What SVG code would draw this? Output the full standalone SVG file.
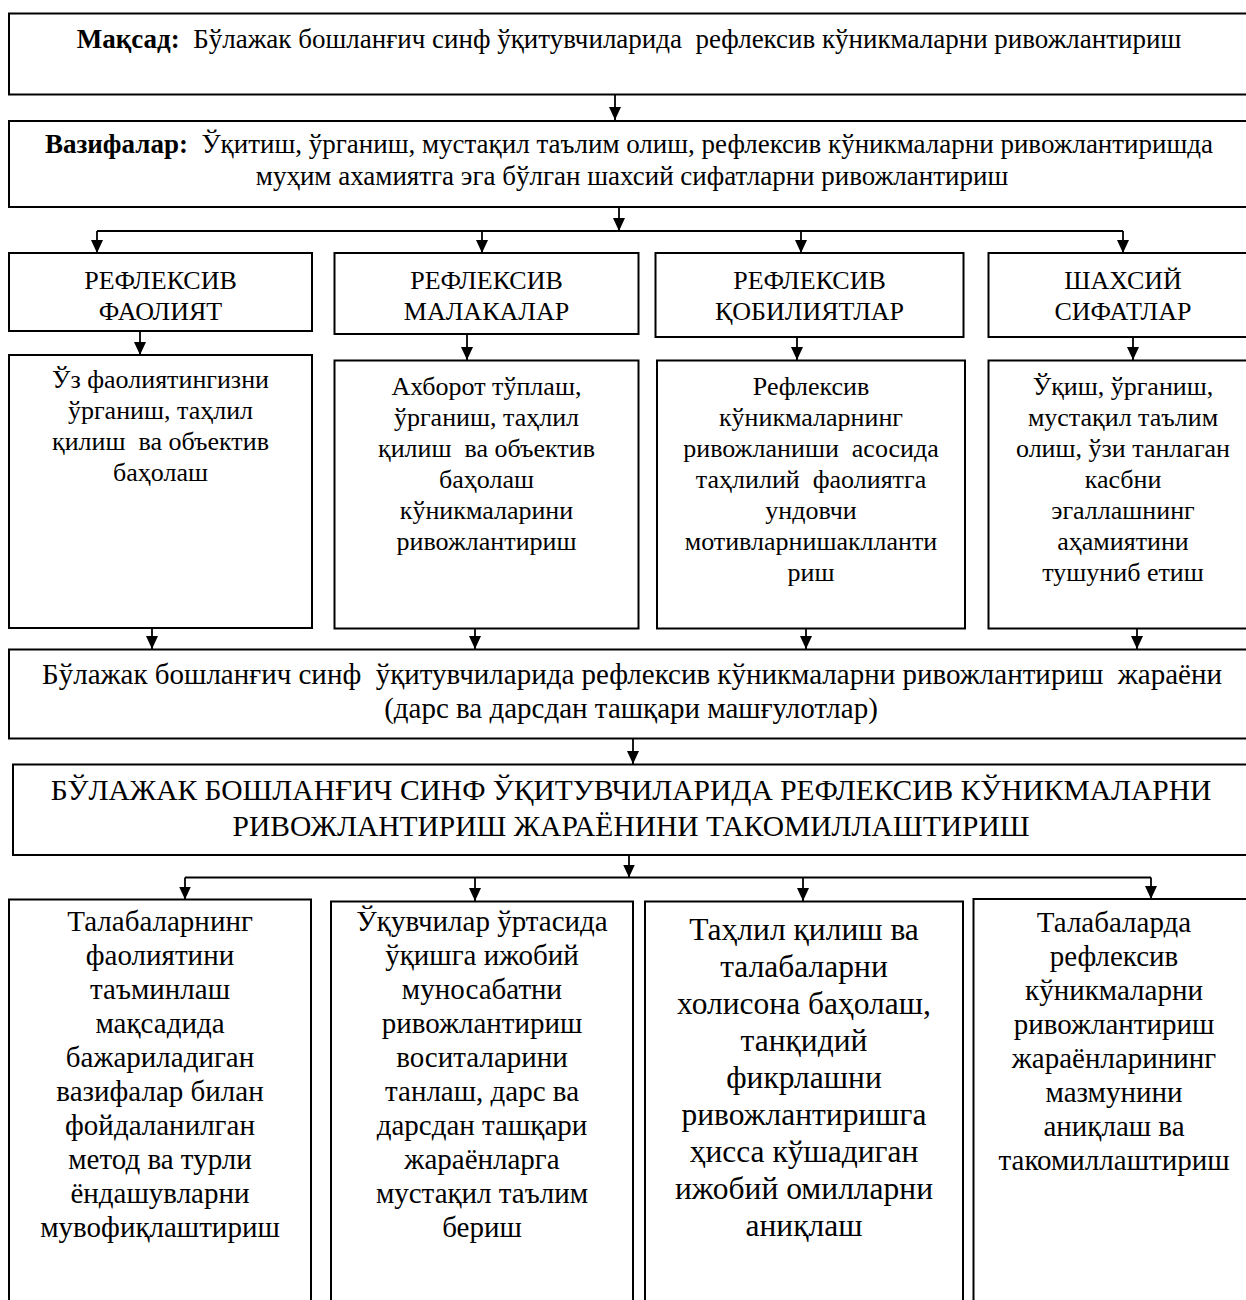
<svg xmlns="http://www.w3.org/2000/svg" width="1246" height="1300" viewBox="0 0 1246 1300">
<style>
.box{fill:#fff;stroke:#000;stroke-width:2}
.conn{fill:none;stroke:#000;stroke-width:1.8}
text{font-family:"Liberation Serif","Times New Roman",serif;fill:#000;text-anchor:middle}
.t27{font-size:27px}
.hd{font-size:26px}
.dt{font-size:26px}
.pr{font-size:29px}
.cp{font-size:29.5px}
.bt{font-size:29px}
.b3{font-size:31.5px}
.b{font-weight:bold}
</style>
<defs>
<marker id="ah" viewBox="0 0 13 12" refX="13" refY="6" markerWidth="13" markerHeight="12" markerUnits="userSpaceOnUse" orient="auto">
<path d="M0,0 L13,6 L0,12 z" fill="#000"/>
</marker>
</defs>
<rect width="1246" height="1300" fill="#fff"/>

<g id="connectors">
<line class="conn" x1="615" y1="95" x2="615" y2="120" marker-end="url(#ah)"/>
<line class="conn" x1="619" y1="207" x2="619" y2="231" marker-end="url(#ah)"/>
<line class="conn" x1="97" y1="231" x2="1123" y2="231"/>
<line class="conn" x1="97" y1="231" x2="97" y2="253" marker-end="url(#ah)"/>
<line class="conn" x1="482" y1="231" x2="482" y2="253" marker-end="url(#ah)"/>
<line class="conn" x1="801" y1="231" x2="801" y2="253" marker-end="url(#ah)"/>
<line class="conn" x1="1123" y1="231" x2="1123" y2="253" marker-end="url(#ah)"/>
<line class="conn" x1="140" y1="331" x2="140" y2="355" marker-end="url(#ah)"/>
<line class="conn" x1="467" y1="334" x2="467" y2="360" marker-end="url(#ah)"/>
<line class="conn" x1="797" y1="337" x2="797" y2="360" marker-end="url(#ah)"/>
<line class="conn" x1="1133" y1="337" x2="1133" y2="360" marker-end="url(#ah)"/>
<line class="conn" x1="152" y1="628" x2="152" y2="649" marker-end="url(#ah)"/>
<line class="conn" x1="475" y1="628" x2="475" y2="649" marker-end="url(#ah)"/>
<line class="conn" x1="806" y1="628" x2="806" y2="649" marker-end="url(#ah)"/>
<line class="conn" x1="1137" y1="628" x2="1137" y2="649" marker-end="url(#ah)"/>
<line class="conn" x1="633" y1="739" x2="633" y2="764" marker-end="url(#ah)"/>
<line class="conn" x1="629" y1="855" x2="629" y2="877.5" marker-end="url(#ah)"/>
<line class="conn" x1="185" y1="877.5" x2="1151" y2="877.5"/>
<line class="conn" x1="185" y1="877.5" x2="185" y2="899.5" marker-end="url(#ah)"/>
<line class="conn" x1="475" y1="877.5" x2="475" y2="901" marker-end="url(#ah)"/>
<line class="conn" x1="803" y1="877.5" x2="803" y2="901" marker-end="url(#ah)"/>
<line class="conn" x1="1151" y1="877.5" x2="1151" y2="899" marker-end="url(#ah)"/>
</g>

<g id="goal">
<rect class="box" x="9" y="13.5" width="1250" height="81"/>
<text class="t27" x="629" y="48"><tspan class="b">Мақсад:</tspan>&#160; Бўлажак бошланғич синф ўқитувчиларида&#160; рефлексив кўникмаларни ривожлантириш</text>
</g>

<g id="tasks">
<rect class="box" x="9" y="121" width="1250" height="86"/>
<text class="t27" x="629" y="153"><tspan class="b">Вазифалар:</tspan>&#160; Ўқитиш, ўрганиш, мустақил таълим олиш, рефлексив кўникмаларни ривожлантиришда</text>
<text class="t27" x="632" y="185">муҳим ахамиятга эга бўлган шахсий сифатларни ривожлантириш</text>
</g>

<g id="h1">
<rect class="box" x="9" y="253" width="303" height="78"/>
<text class="hd" x="160.5" y="289">РЕФЛЕКСИВ</text>
<text class="hd" x="160.5" y="320">ФАОЛИЯТ</text>
</g>
<g id="h2">
<rect class="box" x="334.5" y="253" width="304" height="81"/>
<text class="hd" x="486.5" y="289">РЕФЛЕКСИВ</text>
<text class="hd" x="486.5" y="320">МАЛАКАЛАР</text>
</g>
<g id="h3">
<rect class="box" x="655.5" y="253" width="308" height="84"/>
<text class="hd" x="809.5" y="289">РЕФЛЕКСИВ</text>
<text class="hd" x="809.5" y="320">ҚОБИЛИЯТЛАР</text>
</g>
<g id="h4">
<rect class="box" x="988.5" y="253" width="270" height="84"/>
<text class="hd" x="1123" y="289">ШАХСИЙ</text>
<text class="hd" x="1123" y="320">СИФАТЛАР</text>
</g>

<g id="d1">
<rect class="box" x="9" y="355" width="303" height="273"/>
<text class="dt" x="160.5" y="388">Ўз фаолиятингизни</text>
<text class="dt" x="160.5" y="419">ўрганиш, таҳлил</text>
<text class="dt" x="160.5" y="450">қилиш&#160; ва объектив</text>
<text class="dt" x="160.5" y="481">баҳолаш</text>
</g>
<g id="d2">
<rect class="box" x="334.5" y="360.5" width="304" height="268"/>
<text class="dt" x="486.5" y="395">Ахборот тўплаш,</text>
<text class="dt" x="486.5" y="426">ўрганиш, таҳлил</text>
<text class="dt" x="486.5" y="457">қилиш&#160; ва объектив</text>
<text class="dt" x="486.5" y="488">баҳолаш</text>
<text class="dt" x="486.5" y="519">кўникмаларини</text>
<text class="dt" x="486.5" y="550">ривожлантириш</text>
</g>
<g id="d3">
<rect class="box" x="657" y="360.5" width="308" height="268"/>
<text class="dt" x="811" y="395">Рефлексив</text>
<text class="dt" x="811" y="426">кўникмаларнинг</text>
<text class="dt" x="811" y="457">ривожланиши&#160; асосида</text>
<text class="dt" x="811" y="488">таҳлилий&#160; фаолиятга</text>
<text class="dt" x="811" y="519">ундовчи</text>
<text class="dt" x="811" y="550">мотивларнишаклланти</text>
<text class="dt" x="811" y="581">риш</text>
</g>
<g id="d4">
<rect class="box" x="988.5" y="360.5" width="270" height="268"/>
<text class="dt" x="1123" y="395">Ўқиш, ўрганиш,</text>
<text class="dt" x="1123" y="426">мустақил таълим</text>
<text class="dt" x="1123" y="457">олиш, ўзи танлаган</text>
<text class="dt" x="1123" y="488">касбни</text>
<text class="dt" x="1123" y="519">эгаллашнинг</text>
<text class="dt" x="1123" y="550">аҳамиятини</text>
<text class="dt" x="1123" y="581">тушуниб етиш</text>
</g>

<g id="process">
<rect class="box" x="9" y="649.5" width="1250" height="89"/>
<text class="pr" x="632" y="684">Бўлажак бошланғич синф&#160; ўқитувчиларида рефлексив кўникмаларни ривожлантириш&#160; жараёни</text>
<text class="pr" x="631" y="718">(дарс ва дарсдан ташқари машғулотлар)</text>
</g>

<g id="improve">
<rect class="box" x="13" y="764.5" width="1250" height="90.5"/>
<text class="cp" x="631" y="800">БЎЛАЖАК БОШЛАНҒИЧ СИНФ ЎҚИТУВЧИЛАРИДА РЕФЛЕКСИВ КЎНИКМАЛАРНИ</text>
<text class="cp" x="631" y="836">РИВОЖЛАНТИРИШ ЖАРАЁНИНИ ТАКОМИЛЛАШТИРИШ</text>
</g>

<g id="b1">
<rect class="box" x="9" y="899.5" width="302" height="420"/>
<text class="bt" x="160" y="931">Талабаларнинг</text>
<text class="bt" x="160" y="965">фаолиятини</text>
<text class="bt" x="160" y="999">таъминлаш</text>
<text class="bt" x="160" y="1033">мақсадида</text>
<text class="bt" x="160" y="1067">бажариладиган</text>
<text class="bt" x="160" y="1101">вазифалар билан</text>
<text class="bt" x="160" y="1135">фойдаланилган</text>
<text class="bt" x="160" y="1169">метод ва турли</text>
<text class="bt" x="160" y="1203">ёндашувларни</text>
<text class="bt" x="160" y="1237">мувофиқлаштириш</text>
</g>
<g id="b2">
<rect class="box" x="331" y="901.5" width="302" height="420"/>
<text class="bt" x="482" y="931">Ўқувчилар ўртасида</text>
<text class="bt" x="482" y="965">ўқишга ижобий</text>
<text class="bt" x="482" y="999">муносабатни</text>
<text class="bt" x="482" y="1033">ривожлантириш</text>
<text class="bt" x="482" y="1067">воситаларини</text>
<text class="bt" x="482" y="1101">танлаш, дарс ва</text>
<text class="bt" x="482" y="1135">дарсдан ташқари</text>
<text class="bt" x="482" y="1169">жараёнларга</text>
<text class="bt" x="482" y="1203">мустақил таълим</text>
<text class="bt" x="482" y="1237">бериш</text>
</g>
<g id="b3">
<rect class="box" x="645" y="901.5" width="318" height="420"/>
<text class="b3" x="804" y="940">Таҳлил қилиш ва</text>
<text class="b3" x="804" y="977">талабаларни</text>
<text class="b3" x="804" y="1014">холисона баҳолаш,</text>
<text class="b3" x="804" y="1051">танқидий</text>
<text class="b3" x="804" y="1088">фикрлашни</text>
<text class="b3" x="804" y="1125">ривожлантиришга</text>
<text class="b3" x="804" y="1162">ҳисса кўшадиган</text>
<text class="b3" x="804" y="1199">ижобий омилларни</text>
<text class="b3" x="804" y="1236">аниқлаш</text>
</g>
<g id="b4">
<rect class="box" x="973.5" y="899" width="285" height="420"/>
<text class="bt" x="1114" y="932">Талабаларда</text>
<text class="bt" x="1114" y="966">рефлексив</text>
<text class="bt" x="1114" y="1000">кўникмаларни</text>
<text class="bt" x="1114" y="1034">ривожлантириш</text>
<text class="bt" x="1114" y="1068">жараёнларининг</text>
<text class="bt" x="1114" y="1102">мазмунини</text>
<text class="bt" x="1114" y="1136">аниқлаш ва</text>
<text class="bt" x="1114" y="1170">такомиллаштириш</text>
</g>
</svg>
